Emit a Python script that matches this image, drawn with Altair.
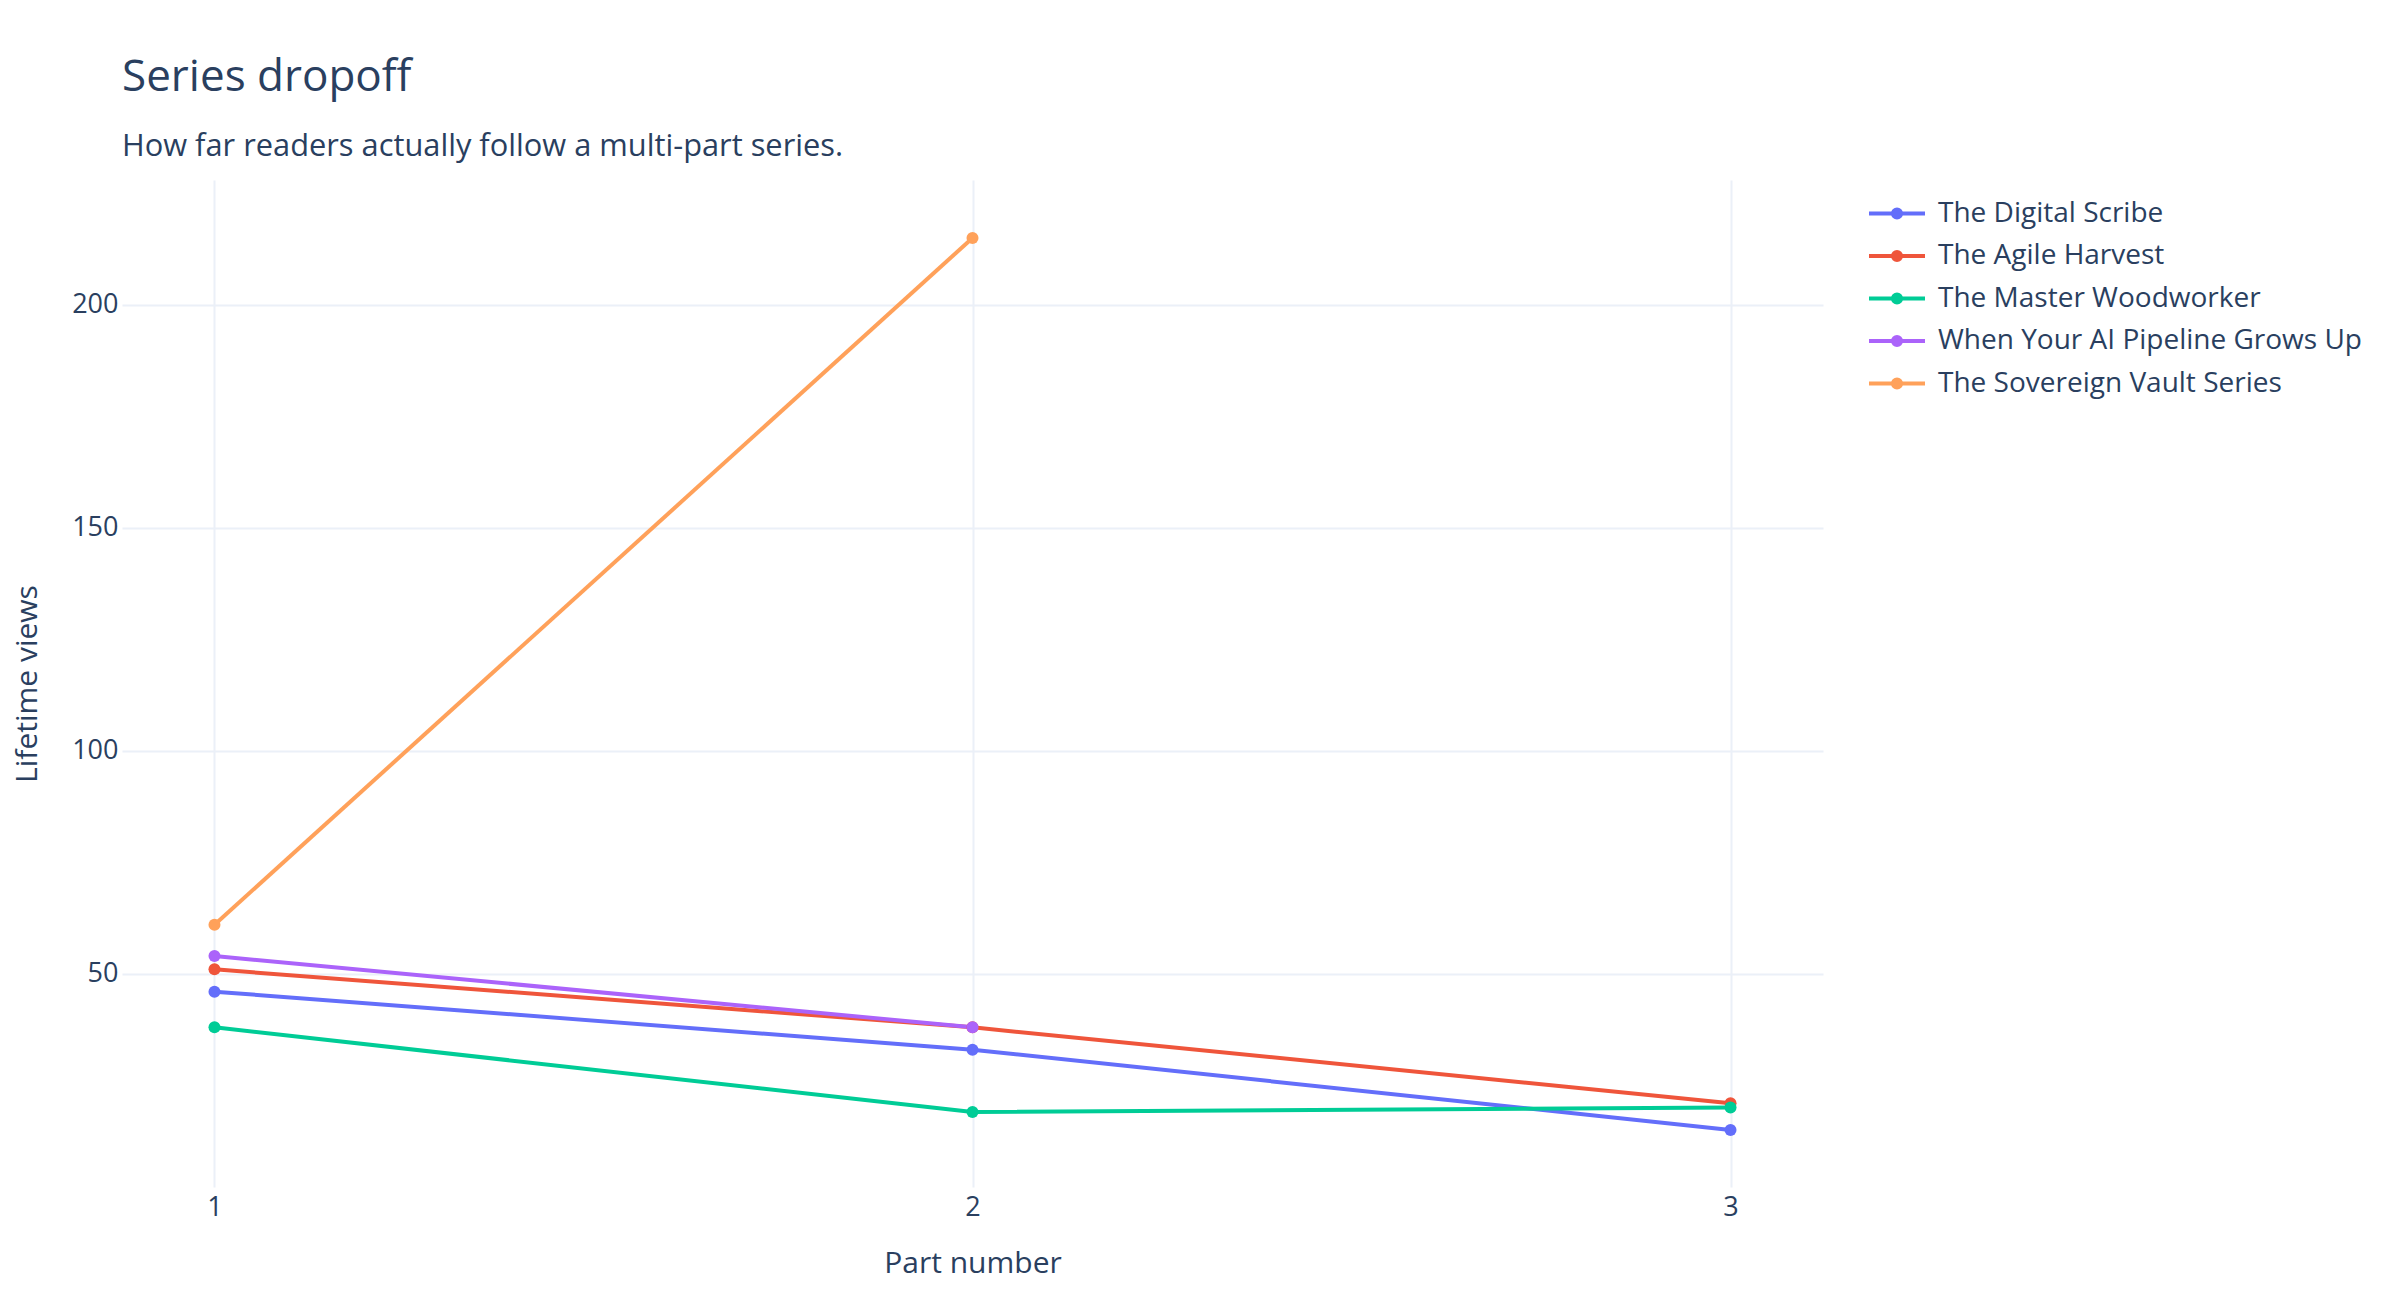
import altair as alt
import pandas as pd

# ---- data ----
series_names = [
    "The Digital Scribe",
    "The Agile Harvest",
    "The Master Woodworker",
    "When Your AI Pipeline Grows Up",
    "The Sovereign Vault Series",
]
series_colors = ["#636EFA", "#EF553B", "#00CC96", "#AB63FA", "#FFA15A"]
digital_scribe = [46, 33, 15]
agile_harvest = [51, 38, 21]
master_woodworker = [38, 19, 20]
ai_pipeline = [54, 38]
sovereign_vault = [61, 215]
series_values = [digital_scribe, agile_harvest, master_woodworker, ai_pipeline, sovereign_vault]
x_ticks = [1, 2, 3]
y_ticks = [50, 100, 150, 200]

rows = []
for name, vals in zip(series_names, series_values):
    for i, v in enumerate(vals):
        rows.append({"series": name, "part": x_ticks[i], "views": v})
df = pd.DataFrame(rows)

FONT = "Open Sans"
TXT = "#2a3f5f"
GRID = "#EBF0F8"

# legend glyph: line with a dot (dot built from concentric stroked rings)
legend_symbol = (
    "M-2,0H2"
    "M-0.29,0A0.29,0.29,0,1,0,0.29,0A0.29,0.29,0,1,0,-0.29,0"
    "M-0.15,0A0.15,0.15,0,1,0,0.15,0A0.15,0.15,0,1,0,-0.15,0"
    "M-0.04,0A0.04,0.04,0,1,0,0.04,0A0.04,0.04,0,1,0,-0.04,0"
)

base = alt.Chart(df).encode(
    x=alt.X(
        "part:Q",
        scale=alt.Scale(domain=[0.878, 3.122], nice=False, zero=False),
        axis=alt.Axis(
            values=x_ticks,
            format="d",
            title="Part number",
            grid=True,
            gridColor=GRID,
            gridWidth=2,
            domain=False,
            ticks=False,
            labelFont=FONT,
            labelFontSize=27,
            labelColor=TXT,
            labelPadding=7,
            titleFont=FONT,
            titleFontSize=30,
            titleFontWeight="normal",
            titleColor=TXT,
            titleY=76,
            titleBaseline="middle",
        ),
    ),
    y=alt.Y(
        "views:Q",
        scale=alt.Scale(domain=[2.2, 228], nice=False, zero=False),
        axis=alt.Axis(
            values=y_ticks,
            title="Lifetime views",
            grid=True,
            gridColor=GRID,
            gridWidth=2,
            domain=False,
            ticks=False,
            labelFont=FONT,
            labelFontSize=27,
            labelColor=TXT,
            labelPadding=4,
            titleFont=FONT,
            titleFontSize=30,
            titleFontWeight="normal",
            titleColor=TXT,
            titleAngle=270,
            titleX=-95,
            titleY=503.5,
            titleAlign="center",
            titleBaseline="middle",
        ),
    ),
    color=alt.Color(
        "series:N",
        scale=alt.Scale(domain=series_names, range=series_colors),
        sort=series_names,
        title=None,
        legend=alt.Legend(
            orient="none",
            legendX=1759,
            legendY=17.5,
            symbolType=legend_symbol,
            symbolSize=784,
            symbolStrokeWidth=4,
            labelFont=FONT,
            labelFontSize=28,
            labelColor=TXT,
            labelOffset=25,
            labelLimit=800,
            rowPadding=12.5,
            padding=0,
        ),
    ),
)

lines = base.mark_line(strokeWidth=4)
points = base.mark_point(filled=True, size=144, opacity=1)

chart = (
    alt.layer(lines, points)
    .properties(
        width=1701,
        height=1007,
        autosize=alt.AutoSizeParams(type="none"),
        padding={"left": 114, "top": 172, "right": 560, "bottom": 100},
        title=alt.TitleParams(
            text="Series dropoff",
            subtitle="How far readers actually follow a multi-part series.",
            anchor="start",
            frame="group",
            font=FONT,
            fontSize=44,
            fontWeight="normal",
            color=TXT,
            subtitleFont=FONT,
            subtitleFontSize=30.8,
            subtitleColor=TXT,
            subtitlePadding=32.5,
            offset=18,
        ),
    )
    .configure_view(stroke="transparent")
)

chart.save("out.html", embed_options={"renderer": "svg", "actions": False})
